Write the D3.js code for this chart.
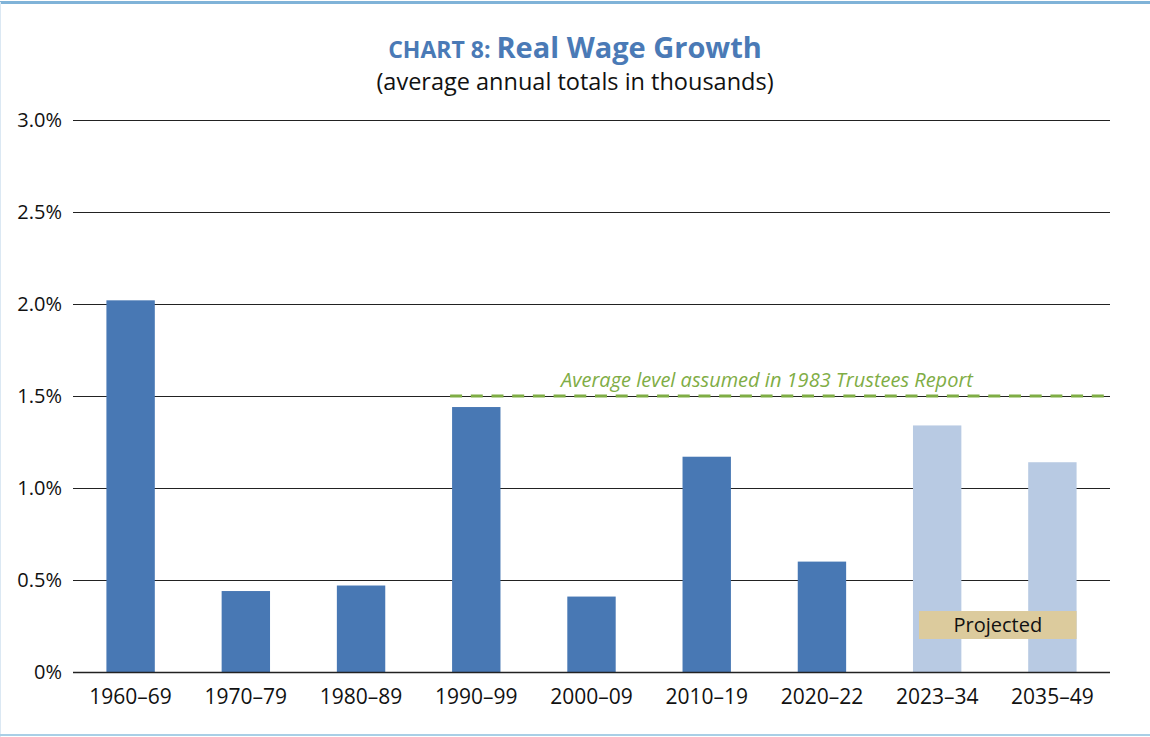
<!DOCTYPE html>
<html>
<head>
<meta charset="utf-8">
<title>Real Wage Growth</title>
<script src="https://cdn.jsdelivr.net/npm/d3@7"></script>
<style>
  body { margin: 0; background: #fff; }
  text { font-family: "Open Sans", "Noto Sans", sans-serif; }
</style>
</head>
<body>
<div id="chart"></div>
<script>
// chart data
const periods = ["1960–69", "1970–79", "1980–89", "1990–99", "2000–09", "2010–19", "2020–22", "2023–34", "2035–49"];
const growth = [2.02, 0.44, 0.47, 1.44, 0.41, 1.17, 0.60, 1.34, 1.14];
const projected = [false, false, false, false, false, false, false, true, true];
const yTicks = [0, 0.5, 1.0, 1.5, 2.0, 2.5, 3.0];
const assumedLevel = 1.5;

const width = 1150, height = 737;
const margin = { top: 120, right: 40, bottom: 65, left: 73 };

const svg = d3.select("#chart").append("svg")
    .attr("width", width)
    .attr("height", height);

// frame
svg.append("line").attr("x1", 0).attr("x2", width).attr("y1", 2.5).attr("y2", 2.5)
    .attr("stroke", "#80b3d8").attr("stroke-width", 3);
svg.append("line").attr("x1", 0.5).attr("x2", 0.5).attr("y1", 2).attr("y2", height)
    .attr("stroke", "#dbe8f3").attr("stroke-width", 1);
svg.append("line").attr("x1", 0).attr("x2", width).attr("y1", 735).attr("y2", 735)
    .attr("stroke", "#a9cfe6").attr("stroke-width", 2);

// title
const title = svg.append("text")
    .attr("x", width / 2).attr("y", 58)
    .attr("text-anchor", "middle")
    .attr("fill", "#4a7ab6")
    .attr("font-weight", "bold");
title.append("tspan").attr("font-size", 23).text("CHART 8: ");
title.append("tspan").attr("font-size", 29).text("Real Wage Growth");

svg.append("text")
    .attr("x", width / 2).attr("y", 90)
    .attr("text-anchor", "middle")
    .attr("font-size", 23.5)
    .attr("fill", "#111")
    .text("(average annual totals in thousands)");

const x = d3.scaleBand()
    .domain(periods)
    .range([margin.left, width - margin.right])
    .paddingInner(0.58)
    .paddingOuter(0.29);

const y = d3.scaleLinear()
    .domain([0, 3.0])
    .range([height - margin.bottom, margin.top]);

// gridlines
svg.append("g")
    .selectAll("line")
    .data(yTicks)
    .enter().append("line")
    .attr("x1", margin.left)
    .attr("x2", width - margin.right)
    .attr("y1", d => Math.round(y(d)) + 0.5)
    .attr("y2", d => Math.round(y(d)) + 0.5)
    .attr("stroke", "#222")
    .attr("stroke-width", 1);

// y labels
svg.append("g")
    .selectAll("text")
    .data(yTicks)
    .enter().append("text")
    .attr("x", 62)
    .attr("y", d => y(d))
    .attr("dy", "0.35em")
    .attr("text-anchor", "end")
    .attr("font-size", 20)
    .attr("fill", "#111")
    .text(d => d === 0 ? "0%" : d.toFixed(1) + "%");

// bars
svg.append("g")
    .selectAll("rect")
    .data(periods)
    .enter().append("rect")
    .attr("x", d => x(d))
    .attr("width", x.bandwidth())
    .attr("y", (d, i) => y(growth[i]))
    .attr("height", (d, i) => y(0) - y(growth[i]))
    .attr("fill", (d, i) => projected[i] ? "#b8cae3" : "#4878b4");

// baseline on top of bars
svg.append("line")
    .attr("x1", margin.left).attr("x2", width - margin.right)
    .attr("y1", Math.round(y(0)) + 0.5).attr("y2", Math.round(y(0)) + 0.5)
    .attr("stroke", "#222").attr("stroke-width", 1.5);

// x labels
svg.append("g")
    .selectAll("text")
    .data(periods)
    .enter().append("text")
    .attr("x", d => x(d) + x.bandwidth() / 2)
    .attr("y", y(0) + 32)
    .attr("text-anchor", "middle")
    .attr("font-size", 21)
    .attr("fill", "#111")
    .text(d => d);

// 1983 Trustees Report assumed level
svg.append("line")
    .attr("x1", x("1990–99") - 2)
    .attr("x2", width - margin.right)
    .attr("y1", y(assumedLevel))
    .attr("y2", y(assumedLevel))
    .attr("stroke", "#7fad45")
    .attr("stroke-width", 3)
    .attr("stroke-dasharray", "12,8.7");

svg.append("text")
    .attr("x", 767)
    .attr("y", y(assumedLevel) - 9)
    .attr("text-anchor", "middle")
    .attr("font-size", 20)
    .attr("font-style", "italic")
    .attr("fill", "#7fad45")
    .text("Average level assumed in 1983 Trustees Report");

// projected label
const pStart = x("2023–34") + 6;
const pEnd = x("2035–49") + x.bandwidth();
svg.append("rect")
    .attr("x", pStart)
    .attr("y", 611)
    .attr("width", pEnd - pStart)
    .attr("height", 28)
    .attr("fill", "#dccb9d");
svg.append("text")
    .attr("x", (pStart + pEnd) / 2)
    .attr("y", 625)
    .attr("dy", "0.35em")
    .attr("text-anchor", "middle")
    .attr("font-size", 20)
    .attr("fill", "#111")
    .text("Projected");
</script>
</body>
</html>
